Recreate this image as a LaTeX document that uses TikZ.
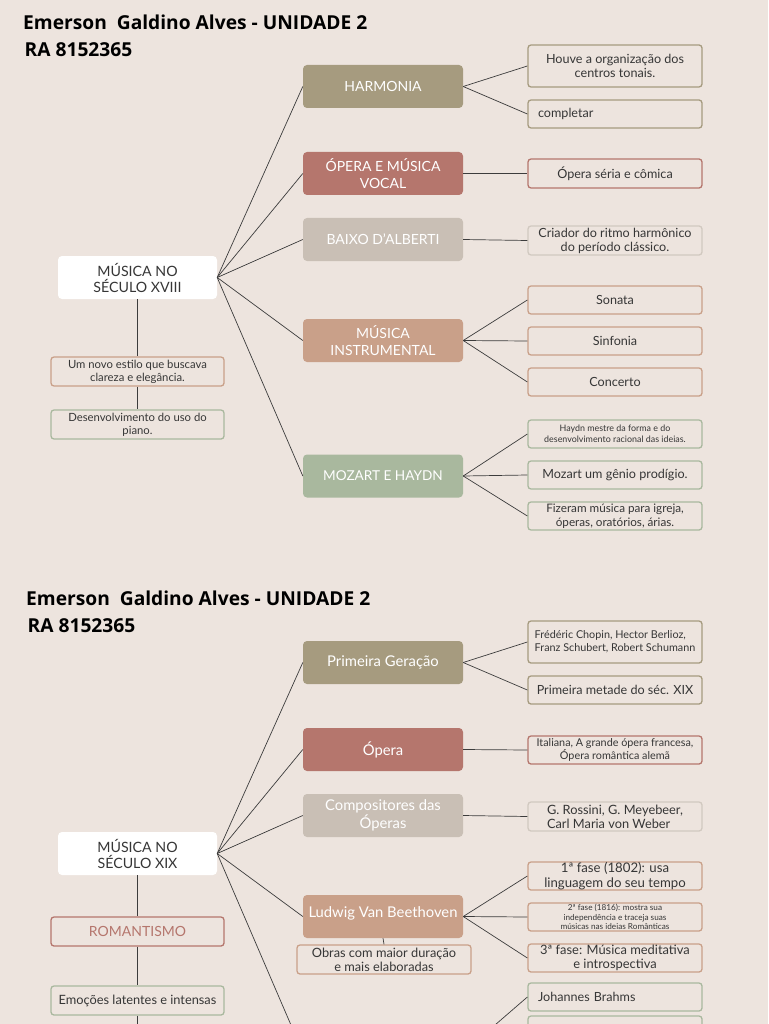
\documentclass[tikz,border=0pt]{standalone}
\usepackage{fontspec}
\setmainfont{Lato}
\newfontfamily\titlefont{Open Sans}
\definecolor{bg}{HTML}{EDE4DE}
\definecolor{ctan}{HTML}{A69B7F}
\definecolor{cred}{HTML}{B5766D}
\definecolor{cgray}{HTML}{C9BFB5}
\definecolor{cpeach}{HTML}{C9A089}
\definecolor{cgreen}{HTML}{A9B89E}
\definecolor{cline}{HTML}{3C3C3C}
\definecolor{ctxt}{HTML}{363636}
\tikzset{
  midbox/.style={rounded corners=4pt, minimum width=160pt, minimum height=43pt, text=white, align=center, inner sep=0pt, font=\fontsize{14}{17}\selectfont},
  midlow/.style={midbox, font=\fontsize{14.8}{17.5}\selectfont},
  rootbox/.style={rounded corners=4pt, fill=white, minimum width=159pt, minimum height=43pt, text=ctxt, align=center, inner sep=0pt, font=\fontsize{14.2}{16}\selectfont},
  leaf/.style={rounded corners=3pt, draw, line width=1.3pt, fill=bg, minimum width=174pt, minimum height=28pt, text=ctxt, align=center, inner sep=0pt, font=\fontsize{12.6}{14}\selectfont},
  lbox/.style={leaf, minimum width=173pt, minimum height=29pt, font=\fontsize{11.3}{13}\selectfont},
  conn/.style={draw=cline, line width=0.7pt},
  titletxt/.style={anchor=north west, inner sep=0pt, align=left, font=\titlefont\bfseries\fontsize{19.2}{26.5}\selectfont, text=black}
}
\begin{document}
\begin{tikzpicture}[x=1pt,y=-1pt]
\useasboundingbox (0,0) rectangle (768,1024);
\clip (0,0) rectangle (768,1024);
\fill[bg] (0,0) rectangle (768,1024);

% ---------- Section 1 ----------
\node[titletxt] (t1) at (23,15) {Emerson\ \ Galdino Alves - UNIDADE 2\\\hspace*{1.5pt}RA 8152365};

\node[rootbox] (r1) at (137.5,277.5) {MÚSICA NO\\SÉCULO XVIII};
\node[midbox, fill=ctan] (m1) at (383,86.5) {HARMONIA};
\node[midbox, fill=cred] (m2) at (383,173.5) {ÓPERA E MÚSICA\\VOCAL};
\node[midbox, fill=cgray] (m3) at (383,239.5) {BAIXO D'ALBERTI};
\node[midbox, fill=cpeach] (m4) at (383,340.5) {MÚSICA\\INSTRUMENTAL};
\node[midbox, fill=cgreen, font=\fontsize{13.6}{17}\selectfont] (m5) at (383,476) {MOZART E HAYDN};

\node[leaf, draw=ctan, minimum height=42pt] (a1) at (615,66) {Houve a organização dos\\centros tonais.};
\node[leaf, draw=ctan, text width=154pt, align=left] (a2) at (615,114) {completar};
\node[leaf, draw=cred, minimum height=29pt] (b1) at (615,173.5) {Ópera séria e cômica};
\node[leaf, draw=cgray!85!white, minimum height=29pt] (c1) at (615,240.5) {Criador do ritmo harmônico\\do período clássico.};
\node[leaf, draw=cpeach] (d1) at (615,300) {Sonata};
\node[leaf, draw=cpeach] (d2) at (615,341) {Sinfonia};
\node[leaf, draw=cpeach] (d3) at (615,382) {Concerto};
\node[leaf, draw=cgreen, font=\fontsize{8.9}{11}\selectfont] (e1) at (615,434) {Haydn mestre da forma e do\\desenvolvimento racional das ideias.};
\node[leaf, draw=cgreen] (e2) at (615,475) {Mozart um gênio prodígio.};
\node[leaf, draw=cgreen, font=\fontsize{11.7}{13.5}\selectfont] (e3) at (615,516) {Fizeram música para igreja,\\óperas, oratórios, árias.};

\node[lbox, draw=cpeach] (l1) at (137.5,371.5) {Um novo estilo que buscava\\clareza e elegância.};
\node[lbox, draw=cgreen] (l2) at (137.5,424.5) {Desenvolvimento do uso do\\piano.};

\foreach \m in {m1,m2,m3,m4,m5} \draw[conn] (r1.east) -- (\m.west);
\draw[conn] (m1.east) -- (a1.west);
\draw[conn] (m1.east) -- (a2.west);
\draw[conn] (m2.east) -- (b1.west);
\draw[conn] (m3.east) -- (c1.west);
\draw[conn] (m4.east) -- (d1.west);
\draw[conn] (m4.east) -- (d2.west);
\draw[conn] (m4.east) -- (d3.west);
\draw[conn] (m5.east) -- (e1.west);
\draw[conn] (m5.east) -- (e2.west);
\draw[conn] (m5.east) -- (e3.west);
\draw[conn] (r1.south) -- (l1.north);
\draw[conn] (l1.south) -- (l2.north);

% ---------- Section 2 ----------
\node[titletxt] (t2) at (26,591) {Emerson\ \ Galdino Alves - UNIDADE 2\\\hspace*{1.5pt}RA 8152365};

\node[rootbox] (r2) at (137.5,853.5) {MÚSICA NO\\SÉCULO XIX};
\node[midlow, fill=ctan] (n1) at (383,662.5) {Primeira Geração};
\node[midlow, fill=cred] (n2) at (383,749.5) {Ópera};
\node[midlow, fill=cgray] (n3) at (383,815.5) {Compositores das\\Óperas};
\node[midlow, fill=cpeach] (n4) at (383,916.5) {\raisebox{8pt}{Ludwig Van Beethoven}};
\node[midbox, fill=cgreen] (n5) at (383,1052.5) {};

\node[leaf, draw=ctan, minimum height=42pt, align=left, font=\fontsize{10.8}{13}\selectfont] (p1) at (615,642) {Frédéric Chopin, Hector Berlioz,\\Franz Schubert, Robert Schumann};
\node[leaf, draw=ctan] (p2) at (615,690) {Primeira metade do séc. XIX};
\node[leaf, draw=cred, font=\fontsize{10.8}{12.5}\selectfont] (q1) at (615,750) {Italiana, A grande ópera francesa,\\Ópera romântica alemã};
\node[leaf, draw=cgray!85!white, minimum height=29pt, align=left, font=\fontsize{12.8}{14}\selectfont] (s1) at (615,816.5) {G. Rossini, G. Meyebeer,\\Carl Maria von Weber};
\node[leaf, draw=cpeach, font=\fontsize{13.2}{14.5}\selectfont] (u1) at (615,876) {1ª fase (1802): usa\\linguagem do seu tempo};
\node[leaf, draw=cpeach, font=\fontsize{8.2}{9.8}\selectfont] (u2) at (615,917) {2ª fase (1816): mostra sua\\independência e traceja suas\\músicas nas ideias Românticas};
\node[leaf, draw=cpeach, font=\fontsize{12.9}{14.5}\selectfont] (u3) at (615,958) {3ª fase: Música meditativa\\e introspectiva};
\node[leaf, draw=cgreen, text width=154pt, align=left] (v1) at (615,997) {Johannes Brahms};
\node[leaf, draw=cgreen] (v2) at (615,1030) {};

\node[leaf, draw=cpeach, minimum height=29pt, font=\fontsize{12.8}{14}\selectfont] (o1) at (384,959.5) {Obras com maior duração\\e mais elaboradas};

\node[lbox, draw=cred, text=cred, font=\fontsize{14}{15}\selectfont] (k1) at (137.5,931.5) {ROMANTISMO};
\node[lbox, draw=cgreen, font=\fontsize{12.8}{14}\selectfont] (k2) at (137.5,1000.5) {Emoções latentes e intensas};
\coordinate (k3) at (137.5,1040);

\foreach \m in {n1,n2,n3,n4,n5} \draw[conn] (r2.east) -- (\m.west);
\draw[conn] (n1.east) -- (p1.west);
\draw[conn] (n1.east) -- (p2.west);
\draw[conn] (n2.east) -- (q1.west);
\draw[conn] (n3.east) -- (s1.west);
\draw[conn] (n4.east) -- (u1.west);
\draw[conn] (n4.east) -- (u2.west);
\draw[conn] (n4.east) -- (u3.west);
\draw[conn] (n5.east) -- (v1.west);
\draw[conn] (n4.south) -- (o1.north);
\draw[conn] (r2.south) -- (k1.north);
\draw[conn] (k1.south) -- (k2.north);
\draw[conn] (k2.south) -- (k3);
\end{tikzpicture}
\end{document}
